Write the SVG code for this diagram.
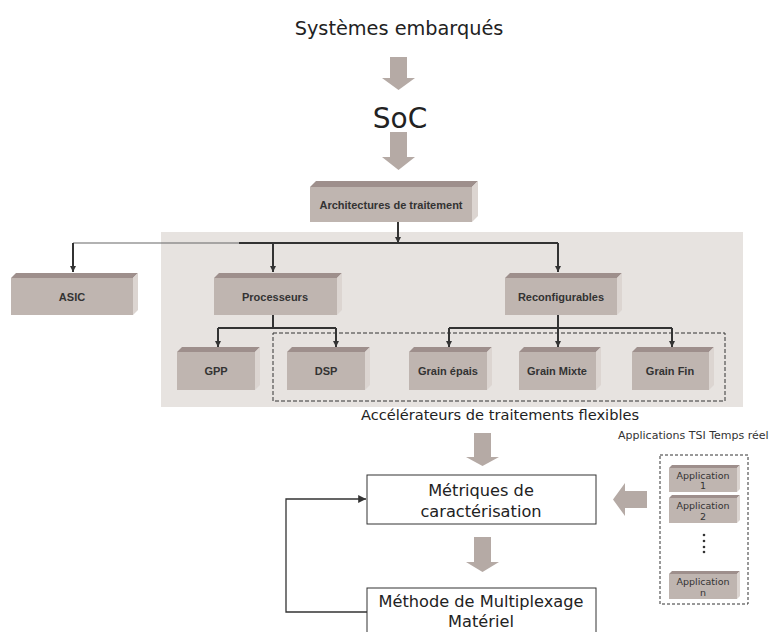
<svg xmlns="http://www.w3.org/2000/svg" width="776" height="632" viewBox="0 0 776 632">
<defs>
<style>
.front{fill:#bfb5b0}
.top{fill:#9e8f8c}
.side{fill:#dcd5d1}
.lbl{font-family:"Liberation Sans",Arial,sans-serif;font-weight:bold;font-size:11px;fill:#333;text-anchor:middle}
.big{font-family:"DejaVu Sans",Verdana,sans-serif;fill:#222;text-anchor:middle}
.blk{fill:#b5aaa5}
.con{fill:none;stroke:#333;stroke-width:2}
.app{font-family:"DejaVu Sans",Verdana,sans-serif;font-size:9.5px;fill:#333;text-anchor:middle}
</style>
<marker id="ah" viewBox="0 0 10 10" refX="10" refY="5" markerWidth="3" markerHeight="3" orient="auto" markerUnits="strokeWidth"><path d="M0,0L10,5L0,10z" fill="#333"/></marker>
<marker id="ah2" viewBox="0 0 10 10" refX="10" refY="5" markerWidth="6" markerHeight="6" orient="auto" markerUnits="strokeWidth"><path d="M0,0L10,5L0,10z" fill="#333"/></marker>
</defs>
<rect x="161" y="232" width="582" height="175" fill="#e7e3e0"/>
<rect x="273" y="333" width="452" height="68" fill="none" stroke="#333" stroke-width="1" stroke-dasharray="4,2"/>

<text class="big" x="399" y="35" font-size="19.3">Systèmes embarqués</text>
<g id="arrow-top1"><path class="blk" d="M390,57H407V78H415L398.5,90L382,78H390Z"/></g>
<text class="big" x="400" y="128" font-size="28">SoC</text>
<g id="arrow-top2"><path class="blk" d="M390,132H407V157H415L398.5,170L382,157H390Z"/></g>

<g id="arch"><polygon class="top" points="310,187 316,181 478,181 472,187"/><polygon class="side" points="472,187 478,181 478,216 472,222"/><rect class="front" x="310" y="187" width="162" height="35"/><text class="lbl" x="391" y="209">Architectures de traitement</text></g>

<g id="asic"><polygon class="top" points="11,278 16,273 138,273 133,278"/><polygon class="side" points="133,278 138,273 138,310 133,315"/><rect class="front" x="11" y="278" width="122" height="37"/><text class="lbl" x="72" y="301">ASIC</text></g>
<g id="proc"><polygon class="top" points="214,278 219,273 342,273 337,278"/><polygon class="side" points="337,278 342,273 342,310 337,315"/><rect class="front" x="214" y="278" width="123" height="37"/><text class="lbl" x="275" y="301">Processeurs</text></g>
<g id="reconf"><polygon class="top" points="505,278 510,273 622,273 617,278"/><polygon class="side" points="617,278 622,273 622,310 617,315"/><rect class="front" x="505" y="278" width="112" height="37"/><text class="lbl" x="561" y="301">Reconfigurables</text></g>

<g id="gpp"><polygon class="top" points="177,352 182,347 260,347 255,352"/><polygon class="side" points="255,352 260,347 260,385 255,390"/><rect class="front" x="177" y="352" width="78" height="38"/><text class="lbl" x="216" y="375">GPP</text></g>
<g id="dsp"><polygon class="top" points="287,352 292,347 370,347 365,352"/><polygon class="side" points="365,352 370,347 370,385 365,390"/><rect class="front" x="287" y="352" width="78" height="38"/><text class="lbl" x="326" y="375">DSP</text></g>
<g id="epais"><polygon class="top" points="409,352 414,347 492,347 487,352"/><polygon class="side" points="487,352 492,347 492,385 487,390"/><rect class="front" x="409" y="352" width="78" height="38"/><text class="lbl" x="448" y="375">Grain épais</text></g>
<g id="mixte"><polygon class="top" points="519,352 524,347 601,347 596,352"/><polygon class="side" points="596,352 601,347 601,385 596,390"/><rect class="front" x="519" y="352" width="77" height="38"/><text class="lbl" x="557" y="375">Grain Mixte</text></g>
<g id="fin"><polygon class="top" points="632,352 637,347 714,347 709,352"/><polygon class="side" points="709,352 714,347 714,385 709,390"/><rect class="front" x="632" y="352" width="77" height="38"/><text class="lbl" x="670" y="375">Grain Fin</text></g>

<g id="connectors">
<path class="con" d="M398,222V243" marker-end="url(#ah)"/>
<path fill="none" stroke="#666" stroke-width="1.2" d="M73,243H239"/>
<path class="con" stroke-width="2.5" d="M239,243H558"/>
<path class="con" d="M73,243V272" marker-end="url(#ah)"/>
<path class="con" stroke-width="1.2" d="M273,243V272" marker-end="url(#ah)"/>
<path class="con" d="M558,243V272" marker-end="url(#ah)"/>
<path class="con" d="M273,315V328M218,328H336M218,328V347M336,328V347"/>
<path class="con" d="M218,340V347" marker-end="url(#ah)"/>
<path class="con" d="M336,340V347" marker-end="url(#ah)"/>
<path class="con" d="M558,315V328M449,328H672M449,328V347M558,328V347M672,328V347"/>
<path class="con" d="M449,340V347" marker-end="url(#ah)"/>
<path class="con" d="M558,340V347" marker-end="url(#ah)"/>
<path class="con" d="M672,340V347" marker-end="url(#ah)"/>
<path fill="none" stroke="#333" stroke-width="1.3" d="M367,612H286V499H366" marker-end="url(#ah2)"/>
</g>

<text class="big" x="500" y="420" font-size="14.6">Accélérateurs de traitements flexibles</text>
<g id="arrow-mid1"><path class="blk" d="M474,433H491V457H499L482.5,466L466,457H474Z"/></g>

<g id="metriques"><rect x="367" y="475" width="229" height="49" fill="#fff" stroke="#333" stroke-width="1"/><text class="big" x="481" y="496" font-size="16.2">Métriques de</text><text class="big" x="481" y="517" font-size="16.2">caractérisation</text></g>
<g id="arrow-mid2"><path class="blk" d="M474,537H491V562H499L482.5,572L466,562H474Z"/></g>
<g id="methode"><rect x="367" y="588" width="229" height="60" fill="#fff" stroke="#333" stroke-width="1"/><text class="big" x="481" y="607" font-size="16.2">Méthode de Multiplexage</text><text class="big" x="481" y="627" font-size="16.2">Matériel</text></g>

<g id="arrow-left"><path class="blk" d="M647,491V508H625V516L613,499.5L625,483V491Z"/></g>

<text x="618" y="439" font-family="DejaVu Sans,Verdana,sans-serif" font-size="11" fill="#333">Applications TSI Temps réel</text>
<g id="apps">
<rect x="660" y="455" width="88" height="149" fill="none" stroke="#333" stroke-width="1" stroke-dasharray="3,2"/>
<g id="app1"><polygon class="top" points="669,468 672,465 740,465 737,468"/><polygon class="side" points="737,468 740,465 740,489 737,492"/><rect class="front" x="669" y="468" width="68" height="24"/><text class="app" x="703" y="479">Application</text><text class="app" x="703" y="489">1</text></g>
<g id="app2"><polygon class="top" points="669,498 672,495 740,495 737,498"/><polygon class="side" points="737,498 740,495 740,520 737,523"/><rect class="front" x="669" y="498" width="68" height="25"/><text class="app" x="703" y="509">Application</text><text class="app" x="703" y="520">2</text></g>
<g fill="#333"><circle cx="704" cy="535" r="1.3"/><circle cx="704" cy="541" r="1.3"/><circle cx="704" cy="547" r="1.3"/><circle cx="704" cy="552" r="1.3"/></g>
<g id="appn"><polygon class="top" points="669,574 672,571 740,571 737,574"/><polygon class="side" points="737,574 740,571 740,596 737,599"/><rect class="front" x="669" y="574" width="68" height="25"/><text class="app" x="703" y="585">Application</text><text class="app" x="703" y="596">n</text></g>
</g>
</svg>
